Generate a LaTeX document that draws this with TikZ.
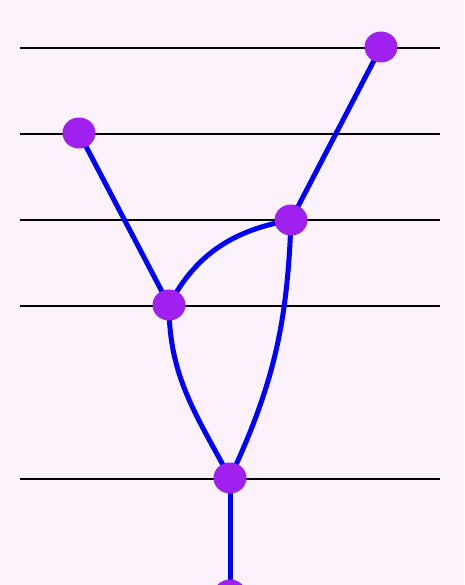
\documentclass[tikz,border=0pt]{standalone}
\definecolor{bgc}{HTML}{FCF2FC}
\definecolor{nodec}{HTML}{A020F0}
\usetikzlibrary{shapes.geometric}
\tikzset{
  dot/.style={ellipse, fill=nodec, draw=none, minimum width=33pt, minimum height=31pt, inner sep=0pt},
  rule/.style={black, line width=2pt},
  edge/.style={blue, line width=5pt},
}
\begin{document}
\begin{tikzpicture}[x=1pt,y=-1pt]
\useasboundingbox (0,0) rectangle (464,585);
\fill[bgc] (0,0) rectangle (464,585);
\clip (0,0) rectangle (464,585);
\foreach \yy/\nm in {48/a,134/b,220/c,306/d,479/e}{
  \coordinate (L\nm) at (20,\yy);
  \coordinate (R\nm) at (440,\yy);
  \draw[rule] (L\nm) -- (R\nm);
}
\coordinate (n1) at (381,47);
\coordinate (n2) at (79,133);
\coordinate (n3) at (291,220);
\coordinate (n4) at (169,305);
\coordinate (n5) at (230,478);
\coordinate (n6) at (230,595);
\draw[edge] (n1) -- (n3);
\draw[edge] (n2) -- (n4);
\draw[edge] (n4) to[out=62, in=190] (n3);
\draw[edge] (n3) to[out=-92, in=65] (n5);
\draw[edge] (n4) to[out=-90, in=118] (n5);
\draw[edge] (n5) -- (n6);
\foreach \c in {n1,n2,n3,n4,n5,n6}{
  \node[dot] (d\c) at (\c) {};
}
\end{tikzpicture}
\end{document}
